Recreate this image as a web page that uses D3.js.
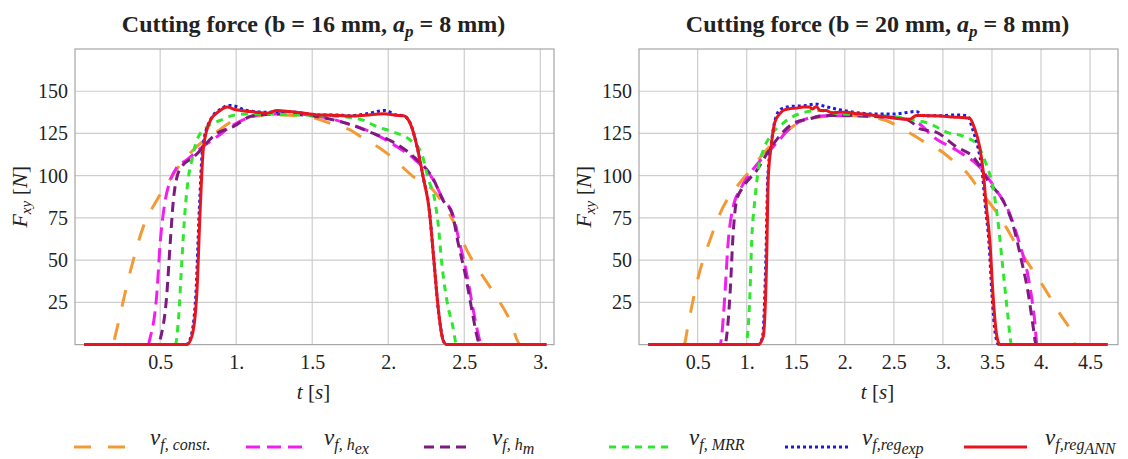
<!DOCTYPE html>
<html><head><meta charset="utf-8">
<script src="https://cdn.jsdelivr.net/npm/d3@7/dist/d3.min.js"></script>
<style>
html,body{margin:0;padding:0;background:#fff;}
svg{display:block;}
text{font-family:"Liberation Serif","Times New Roman",serif;fill:#222;}
</style></head>
<body>
<svg id="chart" width="1128" height="459"></svg>
<script>
// ---------------- DATA ----------------
const yTicks = [25, 50, 75, 100, 125, 150];
const leftXTicks = [0.5, 1, 1.5, 2, 2.5, 3];
const leftXLabels = ["0.5", "1.", "1.5", "2.", "2.5", "3."];
const rightXTicks = [0.5, 1, 1.5, 2, 2.5, 3, 3.5, 4, 4.5];
const rightXLabels = ["0.5", "1.", "1.5", "2.", "2.5", "3.", "3.5", "4.", "4.5"];
const seriesKeys = ["const", "hex", "hm", "mrr", "exp", "ann"];

// b = 16 mm  [t (s), F (N)]
const leftConst = [[0,0],[0.19,0],[0.204,5],[0.30,42],[0.39,70],[0.478,85.5],[0.566,98],[0.653,109],[0.763,119],[0.873,126],[0.98,132.5],[1.1,135],[1.25,136],[1.4,135.5],[1.53,133.7],[1.62,131],[1.77,126],[1.82,123],[1.95,116],[2.01,112],[2.17,99],[2.30,91],[2.41,76],[2.54,52],[2.67,34],[2.80,14.5],[2.87,0],[3.04,0]];
const leftHex = [[0,0],[0.42,0],[0.434,4],[0.478,30],[0.50,60],[0.53,83.5],[0.566,97],[0.61,105],[0.67,109],[0.763,116],[0.873,123],[0.98,130],[1.09,134.7],[1.2,136.5],[1.4,136.5],[1.55,135],[1.73,131],[1.88,126],[2.06,117],[2.17,110],[2.30,97],[2.36,86],[2.42,78],[2.47,60],[2.52,40],[2.56,20],[2.60,3],[2.61,0],[3.04,0]];
const leftHm = [[0,0],[0.49,0],[0.5,3],[0.544,30],[0.566,60],[0.587,85.5],[0.61,99],[0.64,105],[0.72,111],[0.873,125],[0.98,129],[1.11,135.5],[1.3,136.5],[1.55,134.7],[1.73,130.8],[1.88,125.8],[2.03,120],[2.17,111],[2.30,97.3],[2.36,85.5],[2.42,77.6],[2.46,60],[2.51,40],[2.55,20.4],[2.59,2.7],[2.60,0],[3.04,0]];
const leftMrr = [[0,0],[0.6,0],[0.62,14.5],[0.643,50],[0.664,79.5],[0.686,99],[0.708,109],[0.741,121],[0.807,128.8],[0.895,132.7],[0.98,135.7],[1.11,136.7],[1.4,136],[1.6,135.5],[1.73,134.7],[1.84,132.7],[1.925,129],[2.03,126],[2.145,121],[2.22,113],[2.26,99],[2.31,83.5],[2.33,70],[2.35,50],[2.385,26.4],[2.425,10.6],[2.45,0],[3.04,0]];
const leftExp = [[0,0],[0.67,0],[0.70,4],[0.735,30],[0.757,79],[0.78,117],[0.83,133],[0.9,139.5],[0.95,141.6],[1.0,141],[1.05,139],[1.12,138],[1.2,137.5],[1.3,138],[1.42,137.3],[1.53,136],[1.65,136],[1.75,135.5],[1.85,136.5],[1.98,138.6],[2.05,136],[2.10,135.5],[2.145,131],[2.19,117],[2.23,99],[2.27,79.5],[2.30,50],[2.33,20],[2.36,3],[2.38,0],[3.04,0]];
const leftAnn = [[0,0],[0.675,0],[0.708,4.7],[0.741,30],[0.763,79.5],[0.785,117],[0.83,132.7],[0.895,138.6],[0.94,140.6],[1.0,139],[1.03,138.6],[1.09,138],[1.13,137.6],[1.2,137],[1.27,138.6],[1.35,138],[1.42,137.3],[1.53,136],[1.63,135.8],[1.75,135.3],[1.85,135.8],[1.97,136.7],[2.05,135.8],[2.10,135.5],[2.145,130.8],[2.19,117],[2.23,99],[2.27,79.5],[2.30,50],[2.33,20.4],[2.36,2.7],[2.385,0],[3.04,0]];

// b = 20 mm
const rightConst = [[0,0],[0.36,0],[0.405,12.6],[0.506,40],[0.625,61.8],[0.76,81.5],[0.897,93.3],[1.033,103],[1.168,113],[1.30,121],[1.44,127.8],[1.575,132.7],[1.8,135],[2.1,135.5],[2.42,132.7],[2.59,127.5],[2.70,124],[2.865,118],[2.97,115],[3.14,107],[3.24,102],[3.375,91.4],[3.58,75.6],[3.78,56],[3.985,38],[4.19,18.5],[4.325,4.7],[4.35,0],[4.68,0]];
const rightHex = [[0,0],[0.73,0],[0.744,4.7],[0.778,30],[0.81,60],[0.862,81.5],[0.93,91.4],[1.03,101],[1.168,111],[1.30,119],[1.44,128],[1.6,133.5],[1.8,135.5],[2.1,135.5],[2.5,134.5],[2.75,131],[2.90,123],[3.14,115],[3.375,105],[3.545,91.4],[3.68,77.6],[3.78,60],[3.87,40],[3.935,14.5],[3.96,0],[4.68,0]];
const rightHm = [[0,0],[0.78,0],[0.795,4.7],[0.83,30],[0.862,66],[0.897,85.5],[0.964,93.3],[1.10,103],[1.25,117],[1.47,130.8],[1.64,133.7],[1.81,135.7],[2.02,135.7],[2.3,135],[2.6,134],[2.70,130.8],[2.76,127.8],[2.93,125.8],[3.14,117],[3.31,111],[3.48,95.3],[3.61,85.5],[3.71,71.7],[3.80,50],[3.87,30.3],[3.92,10.6],[3.95,0],[4.68,0]];
const rightMrr = [[0,0],[0.99,0],[1.0,2],[1.033,30],[1.05,60],[1.083,85.5],[1.117,103],[1.168,115],[1.236,123],[1.37,131],[1.54,136.7],[1.745,138.6],[1.9,137],[2.2,136],[2.5,135],[2.70,133],[2.865,130.8],[2.97,127.8],[3.035,125.8],[3.20,123.5],[3.34,119],[3.44,107],[3.51,93.3],[3.56,73.6],[3.61,46],[3.66,18.5],[3.70,0],[4.68,0]];
const rightExp = [[0,0],[1.11,0],[1.16,4],[1.195,50],[1.215,99],[1.25,119],[1.29,133],[1.35,139.5],[1.45,141],[1.6,141.5],[1.7,142.5],[1.8,141],[1.95,139],[2.1,137.5],[2.3,136.5],[2.5,136.5],[2.73,138],[2.8,135.5],[3.0,135.5],[3.1,136],[3.25,135.5],[3.3,128],[3.36,116],[3.40,103],[3.43,83.5],[3.47,60],[3.50,30],[3.535,6],[3.57,0],[4.68,0]];
const rightAnn = [[0,0],[1.117,0],[1.168,4.7],[1.203,50],[1.22,99],[1.253,119],[1.287,131.7],[1.338,136.7],[1.37,138.6],[1.44,139.7],[1.51,140],[1.575,140.6],[1.64,140.6],[1.67,139.5],[1.71,141],[1.75,138.6],[1.81,138.6],[1.87,137.2],[1.95,137.6],[2.02,137.6],[2.12,136.7],[2.2,136.5],[2.29,135.7],[2.4,135],[2.49,134.1],[2.66,133.3],[2.73,135.7],[2.85,135.5],[2.97,135.3],[3.1,134.8],[3.27,134.1],[3.32,128.5],[3.375,117],[3.41,103],[3.44,83.5],[3.48,60],[3.51,30.3],[3.545,6.7],[3.58,0],[4.68,0]];

// ---------------- STYLE ----------------
const styles = {
  const: {color:"#f39a35", dash:"17,17", width:3},
  hex:   {color:"#f21ef0", dash:"14,7",  width:3},
  hm:    {color:"#7e1a80", dash:"10,6",  width:3},
  mrr:   {color:"#2ee82e", dash:"7,6",   width:3},
  exp:   {color:"#1a1ae6", dash:"3,3",   width:3},
  ann:   {color:"#e8141e", dash:null,    width:3}
};

const svg = d3.select("#chart");
const plotTop = 49, plotBottom = 344.6;
const y = d3.scaleLinear().domain([0, 175]).range([plotBottom, plotTop]);

function panel(cfg) {
  const x = d3.scaleLinear().domain(cfg.domain).range([cfg.x0, cfg.x1]);
  const g = svg.append("g");
  g.selectAll(".vg").data(cfg.xticks).enter().append("line")
    .attr("x1", d => x(d)).attr("x2", d => x(d)).attr("y1", plotTop).attr("y2", plotBottom)
    .attr("stroke", "#cdcdcd").attr("stroke-width", 1.2);
  g.selectAll(".hg").data(yTicks).enter().append("line")
    .attr("x1", cfg.x0).attr("x2", cfg.x1).attr("y1", d => y(d)).attr("y2", d => y(d))
    .attr("stroke", "#cdcdcd").attr("stroke-width", 1.2);
  g.append("rect").attr("x", cfg.x0).attr("y", plotTop).attr("width", cfg.x1 - cfg.x0).attr("height", plotBottom - plotTop)
    .attr("fill", "none").attr("stroke", "#a6a6a6").attr("stroke-width", 1.2);

  const xa = d3.axisBottom(x).tickValues(cfg.xticks).tickSize(0).tickPadding(10)
    .tickFormat((d, i) => cfg.xlabels[i]);
  const gx = g.append("g").attr("transform", `translate(0,${plotBottom})`).call(xa);
  gx.select(".domain").remove();
  gx.selectAll("text").attr("font-size", 20).attr("fill", "#222")
    .attr("font-family", '"Liberation Serif",serif');
  const ya = d3.axisLeft(y).tickValues(yTicks).tickSize(0).tickPadding(7);
  const gy = g.append("g").attr("transform", `translate(${cfg.x0},0)`).call(ya);
  gy.select(".domain").remove();
  gy.selectAll("text").attr("font-size", 20).attr("fill", "#222")
    .attr("font-family", '"Liberation Serif",serif');

  const line = d3.line().x(d => x(d[0])).y(d => y(d[1])).curve(d3.curveMonotoneX);
  seriesKeys.forEach((k, i) => {
    const s = styles[k];
    g.append("path").datum(cfg.series[i]).attr("d", line)
      .attr("fill", "none").attr("stroke", s.color).attr("stroke-width", s.width)
      .attr("stroke-dasharray", s.dash).attr("stroke-linejoin", "round");
  });

  const cx = (cfg.x0 + cfg.x1) / 2 - 1;
  const t = g.append("text").attr("x", cx).attr("y", 32).attr("text-anchor", "middle")
    .attr("font-size", 24).attr("font-weight", "bold");
  t.append("tspan").text(cfg.title);
  t.append("tspan").attr("font-style", "italic").text("a");
  t.append("tspan").attr("font-style", "italic").attr("font-size", 17).attr("dy", 5).text("p");
  t.append("tspan").attr("dy", -5).text(" = 8 mm)");

  const xl = g.append("text").attr("x", cx).attr("y", 399).attr("text-anchor", "middle").attr("font-size", 21);
  xl.append("tspan").attr("font-style", "italic").text("t");
  xl.append("tspan").text(" [");
  xl.append("tspan").attr("font-style", "italic").text("s");
  xl.append("tspan").text("]");

  const yl = g.append("text").attr("transform", `translate(${cfg.x0 - 48},${(plotTop + plotBottom) / 2}) rotate(-90)`)
    .attr("text-anchor", "middle").attr("font-size", 22);
  yl.append("tspan").attr("font-style", "italic").text("F");
  yl.append("tspan").attr("font-style", "italic").attr("font-size", 15).attr("dy", 4).text("xy");
  yl.append("tspan").attr("dy", -4).text(" [");
  yl.append("tspan").attr("font-style", "italic").text("N");
  yl.append("tspan").text("]");
}

panel({x0: 75, x1: 554, domain: [-0.06, 3.09], xticks: leftXTicks, xlabels: leftXLabels,
  title: "Cutting force (b = 16 mm, ",
  series: [leftConst, leftHex, leftHm, leftMrr, leftExp, leftAnn]});
panel({x0: 639, x1: 1118, domain: [-0.098, 4.785], xticks: rightXTicks, xlabels: rightXLabels,
  title: "Cutting force (b = 20 mm, ",
  series: [rightConst, rightHex, rightHm, rightMrr, rightExp, rightAnn]});

// ---------------- LEGEND ----------------
const legendMain = ["f, const.", "f, h", "f, h", "f, MRR", "f,reg", "f,reg"];
const legendSub = ["", "ex", "m", "", "exp", "ANN"];
const legLineX = [[74, 128], [246, 306], [424, 470], [609, 670], [785, 849], [964, 1027]];
const legTextX = [150, 324, 492, 689, 862, 1045];
const ly = 447;
seriesKeys.forEach((k, i) => {
  const s = styles[k];
  svg.append("line").attr("x1", legLineX[i][0]).attr("x2", legLineX[i][1]).attr("y1", ly).attr("y2", ly)
    .attr("stroke", s.color).attr("stroke-width", s.width).attr("stroke-dasharray", s.dash);
  const t = svg.append("text").attr("x", legTextX[i]).attr("y", 445).attr("font-size", 23).attr("font-style", "italic");
  t.append("tspan").text("v");
  t.append("tspan").attr("font-size", 16).attr("dy", 5).text(legendMain[i]);
  if (legendSub[i]) t.append("tspan").attr("font-size", 16).attr("dy", 4).text(legendSub[i]);
});
</script>
</body></html>
